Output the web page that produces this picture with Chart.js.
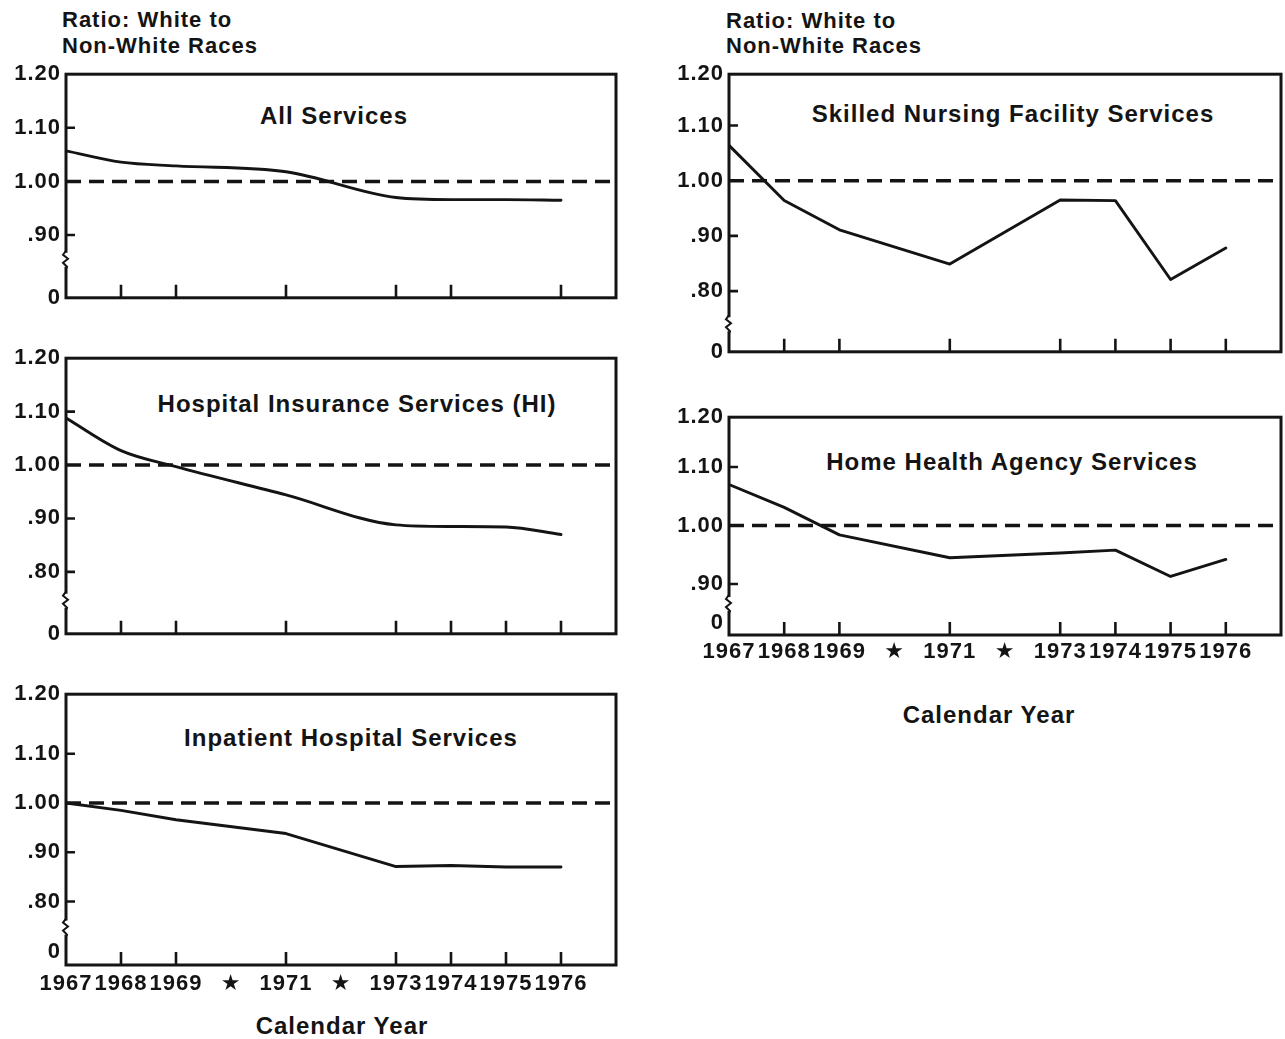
<!DOCTYPE html>
<html>
<head>
<meta charset="utf-8">
<script src="https://cdn.jsdelivr.net/npm/chart.js@4/dist/chart.umd.min.js"></script>
<style>
  html, body { margin: 0; padding: 0; background: #ffffff; }
  body { width: 1285px; height: 1039px; position: relative; overflow: hidden;
         font-family: "Liberation Sans", Arial, Helvetica, sans-serif; color: #141414; }
  canvas { position: absolute; }
  .txt { position: absolute; white-space: nowrap; line-height: 1; letter-spacing: 1px; font-weight: bold; }
  .hdr { font-size: 22px; }
  .ttl { font-size: 24px; transform: translateX(-50%); }
</style>
</head>
<body>
<div class="txt hdr" style="left:62px; top:9px;">Ratio: White to</div>
<div class="txt hdr" style="left:62px; top:35px;">Non-White Races</div>
<div class="txt hdr" style="left:726px; top:10px;">Ratio: White to</div>
<div class="txt hdr" style="left:726px; top:35px;">Non-White Races</div>

<div class="txt ttl" style="left:334px; top:104px;">All Services</div>
<div class="txt ttl" style="left:357px; top:392px;">Hospital Insurance Services (HI)</div>
<div class="txt ttl" style="left:351px; top:726px;">Inpatient Hospital Services</div>
<div class="txt ttl" style="left:1013px; top:102px;">Skilled Nursing Facility Services</div>
<div class="txt ttl" style="left:1012px; top:450px;">Home Health Agency Services</div>

<div class="txt ttl" style="left:342px; top:1014px;">Calendar Year</div>
<div class="txt ttl" style="left:989px; top:703px;">Calendar Year</div>

<script>
// ---------------- data ----------------
const years = [1967, 1968, 1969, 1970, 1971, 1972, 1973, 1974, 1975, 1976];
const xTickLabels = ['1967', '1968', '1969', '\u2605', '1971', '\u2605', '1973', '1974', '1975', '1976'];

// Ratio of white to non-white values (null = starred year, no point plotted)
const allServices       = [1.057, 1.036, 1.029, null, 1.018, null, 0.970, 0.966, 0.966, 0.965];
const hospitalInsurance = [1.088, 1.027, 0.997, null, 0.944, null, 0.888, 0.885, 0.884, 0.870];
const inpatientHospital = [1.000, 0.985, 0.966, null, 0.938, null, 0.871, 0.873, 0.870, 0.870];
const skilledNursing    = [1.064, 0.964, 0.911, null, 0.849, null, 0.965, 0.964, 0.821, 0.878];
const homeHealth        = [1.070, 1.031, 0.984, null, 0.945, null, 0.953, 0.958, 0.913, 0.942];

const parityRatio = 1.00;
const yTicksFive = [0.80, 0.90, 1.00, 1.10];
const yTicksFour = [0.90, 1.00, 1.10];
const yTopLabel = '1.20';
const yBottomLabel = '0';

// ---------------- helpers ----------------
const ink = '#141414';
const fontFamily = '"Liberation Sans", Arial, Helvetica, "DejaVu Sans", sans-serif';
const xStart = years[0];
const xEnd = years[years.length - 1] + 1;

function toPoints(vals) { return years.map((yr, i) => ({ x: yr, y: vals[i] })); }
function fmtY(v) { const s = v.toFixed(2); return v < 1 ? s.slice(1) : s; }

const framePlugin = {
  id: 'frame',
  afterDatasetsDraw(chart) {
    const o = chart.options.plugins.frame;
    const { ctx, chartArea: a, scales: { x, y } } = chart;
    ctx.save();
    ctx.strokeStyle = ink;
    ctx.lineCap = 'butt';
    ctx.lineWidth = 3;
    ctx.strokeRect(a.left, a.top, a.right - a.left, a.bottom - a.top);
    ctx.lineWidth = 2.6;
    ctx.beginPath();
    o.innerX.forEach(v => {
      const px = x.getPixelForValue(v);
      ctx.moveTo(px, a.bottom);
      ctx.lineTo(px, a.bottom - 13);
    });
    o.innerY.forEach(v => {
      const py = y.getPixelForValue(v);
      ctx.moveTo(a.left, py);
      ctx.lineTo(a.left + 9, py);
    });
    ctx.stroke();
    const by = y.getPixelForValue(o.breakAt);
    ctx.fillStyle = '#ffffff';
    ctx.fillRect(a.left - 2, by - 7, 4, 14);
    ctx.lineWidth = 2;
    ctx.beginPath();
    ctx.moveTo(a.left, by - 9);
    ctx.lineTo(a.left - 3, by - 5);
    ctx.lineTo(a.left + 2, by - 1);
    ctx.lineTo(a.left - 3, by + 3);
    ctx.lineTo(a.left + 1, by + 7);
    ctx.lineTo(a.left, by + 9);
    ctx.stroke();
    ctx.restore();
  }
};

const spacingPlugin = {
  id: 'spacing',
  beforeDraw(chart) { chart.ctx.letterSpacing = '1px'; },
  afterDraw(chart) { chart.ctx.letterSpacing = '0px'; }
};

const allTicks = [1968, 1969, 1971, 1973, 1974, 1975, 1976];

const panels = [
  { box: { left: 0, top: 56, width: 622, height: 260 }, values: allServices, tension: 'monotone',
    yMin: 0.783, yMax: 1.20, yTicks: yTicksFour, zeroAt: null, innerY: [0.90, 1.10],
    innerX: [1968, 1969, 1971, 1973, 1974, 1976], breakAt: 0.854, showX: false, xh: 15, pad: 6, pr: 6 },
  { box: { left: 0, top: 340, width: 622, height: 312 }, values: hospitalInsurance, tension: 'monotone',
    yMin: 0.684, yMax: 1.20, yTicks: yTicksFive, zeroAt: null, innerY: [0.80, 0.90, 1.10],
    innerX: allTicks, breakAt: 0.746, showX: false, xh: 15, pad: 6, pr: 6 },
  { box: { left: 0, top: 676, width: 622, height: 329 }, values: inpatientHospital, tension: 0,
    yMin: 0.671, yMax: 1.221, yTicks: yTicksFive, zeroAt: 0.698, innerY: [0.80, 0.90, 1.10],
    innerX: allTicks, breakAt: 0.747, showX: true, xh: 40, pad: 6, pr: 6 },
  { box: { left: 663, top: 56, width: 622, height: 314 }, values: skilledNursing, tension: 0,
    yMin: 0.690, yMax: 1.193, yTicks: yTicksFive, zeroAt: null, innerY: [0.80, 0.90, 1.10],
    innerX: allTicks, breakAt: 0.740, showX: false, xh: 15, pad: 6, pr: 4 },
  { box: { left: 663, top: 399, width: 622, height: 276 }, values: homeHealth, tension: 0,
    yMin: 0.813, yMax: 1.185, yTicks: yTicksFour, zeroAt: 0.833, innerY: [0.90, 1.10],
    innerX: allTicks, breakAt: 0.866, showX: true, xh: 40, pad: 4, pr: 4 }
];

panels.forEach((p) => {
  const cv = document.createElement('canvas');
  cv.width = p.box.width;
  cv.height = p.box.height;
  cv.style.left = p.box.left + 'px';
  cv.style.top = p.box.top + 'px';
  cv.style.width = p.box.width + 'px';
  cv.style.height = p.box.height + 'px';
  document.body.appendChild(cv);

  const yVals = [p.zeroAt !== null ? p.zeroAt : p.yMin, ...p.yTicks, p.yMax];
  const mono = p.tension === 'monotone';

  new Chart(cv.getContext('2d'), {
    type: 'line',
    data: {
      datasets: [
        {
          label: 'parity',
          data: [{ x: xStart, y: parityRatio }, { x: xEnd, y: parityRatio }],
          borderColor: ink, borderWidth: 3.6, borderDash: [15, 8],
          pointRadius: 0, tension: 0, clip: false
        },
        {
          label: 'ratio',
          data: toPoints(p.values),
          borderColor: ink, borderWidth: 2.9, pointRadius: 0,
          spanGaps: true,
          tension: mono ? 0 : p.tension,
          cubicInterpolationMode: mono ? 'monotone' : 'default',
          borderJoinStyle: 'round', borderCapStyle: 'round'
        }
      ]
    },
    options: {
      responsive: false,
      animation: false,
      devicePixelRatio: 1,
      layout: { padding: { top: 14, right: p.pr, left: 0, bottom: 0 } },
      plugins: {
        legend: { display: false },
        tooltip: { enabled: false },
        frame: { innerX: p.innerX, innerY: p.innerY, breakAt: p.breakAt }
      },
      scales: {
        x: {
          type: 'linear', min: xStart, max: xEnd,
          grid: { display: false, drawTicks: false },
          border: { display: false },
          afterBuildTicks: (s) => { s.ticks = years.map(v => ({ value: v })); },
          afterFit: (s) => { s.height = p.xh; },
          ticks: {
            display: p.showX, autoSkip: false, maxRotation: 0, minRotation: 0,
            padding: p.pad, color: ink,
            font: { family: fontFamily, size: 22, weight: 'bold' },
            callback: (v, i) => xTickLabels[i]
          }
        },
        y: {
          type: 'linear', min: p.yMin, max: p.yMax,
          grid: { display: false, drawTicks: false },
          border: { display: false },
          afterBuildTicks: (s) => { s.ticks = yVals.map(v => ({ value: v })); },
          afterFit: (s) => { s.width = 66; },
          ticks: {
            autoSkip: false, padding: 5, color: ink,
            font: { family: fontFamily, size: 22, weight: 'bold' },
            callback: (v, i, arr) => i === 0 ? yBottomLabel : (i === arr.length - 1 ? yTopLabel : fmtY(v))
          }
        }
      }
    },
    plugins: [framePlugin, spacingPlugin]
  });
});
</script>
</body>
</html>
